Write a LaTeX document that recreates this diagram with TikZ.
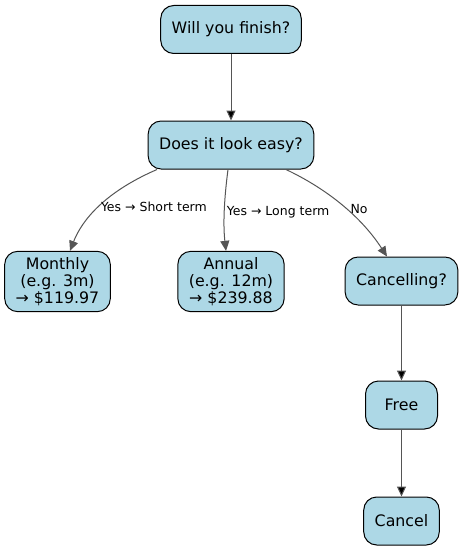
\documentclass[tikz,border=0pt]{standalone}
\usepackage{fontspec}
\setmainfont{DejaVu Sans}
\usepackage{tikz}
\usetikzlibrary{positioning}
\usetikzlibrary{arrows.meta}
\definecolor{boxblue}{HTML}{ADD8E6}
\definecolor{edgegray}{HTML}{555555}

\begin{document}
\begin{tikzpicture}[
            x = 1pt, y = -1pt, % pixel grid, y down
            > = {Triangle[length=10pt,width=9pt]}, % arrow head style
            auto,
            line width = 1pt % line style
        ]

        \tikzstyle{question}=[
            draw = black,
            fill = boxblue,
            rounded corners = 13pt,
            align = center,
            inner xsep = 11pt,
            inner ysep = 6pt,
            minimum width = 72pt,
            minimum height = 48pt,
            font = \fontsize{15.8}{17}\selectfont
        ]
        \tikzstyle{edgelabel}=[
            right,
            inner sep = 2pt,
            font = \fontsize{12.5}{14}\selectfont
        ]
        \tikzstyle{flow}=[->, draw = edgegray]

        \useasboundingbox (0,0) rectangle (463,551);

	% questions
        \node[question] (finish) at (231,29.5) {Will you finish?};
        \node[question] (easy) at (231,145) {Does it look easy?};

        % plans
        \node[question] (monthly) at (57.5,281.5) {Monthly\\(e.g. 3m)\\→ \$119.97};
        \node[question] (annual) at (231,281.5) {Annual\\(e.g. 12m)\\→ \$239.88};
        \node[question] (cancelling) at (401.5,281) {Cancelling?};
        \node[question] (free) at (401.5,405) {Free};
        \node[question] (cancel) at (401.5,521) {Cancel};

        \path[flow] (finish) edge node {} (easy);
        \draw[flow] ([xshift=-74pt]easy.south) .. controls (105,192) and (82,220) .. (monthly.north -| 70,0)
            node[edgelabel, pos=0.5] {Yes → Short term};
        \draw[flow] ([xshift=-3pt]easy.south) .. controls (224,200) and (223,225) .. (annual.north -| 226,0)
            node[edgelabel, pos=0.5] {Yes → Long term};
        \draw[flow] ([xshift=55pt]easy.south) .. controls (325,188) and (360,215) .. (cancelling.north -| 387,0)
            node[edgelabel, pos=0.55, inner sep=4pt] {No};
        \path[flow] (cancelling) edge node {} (free);
        \path[flow] (free) edge node {} (cancel);

  \end{tikzpicture}
\end{document}
